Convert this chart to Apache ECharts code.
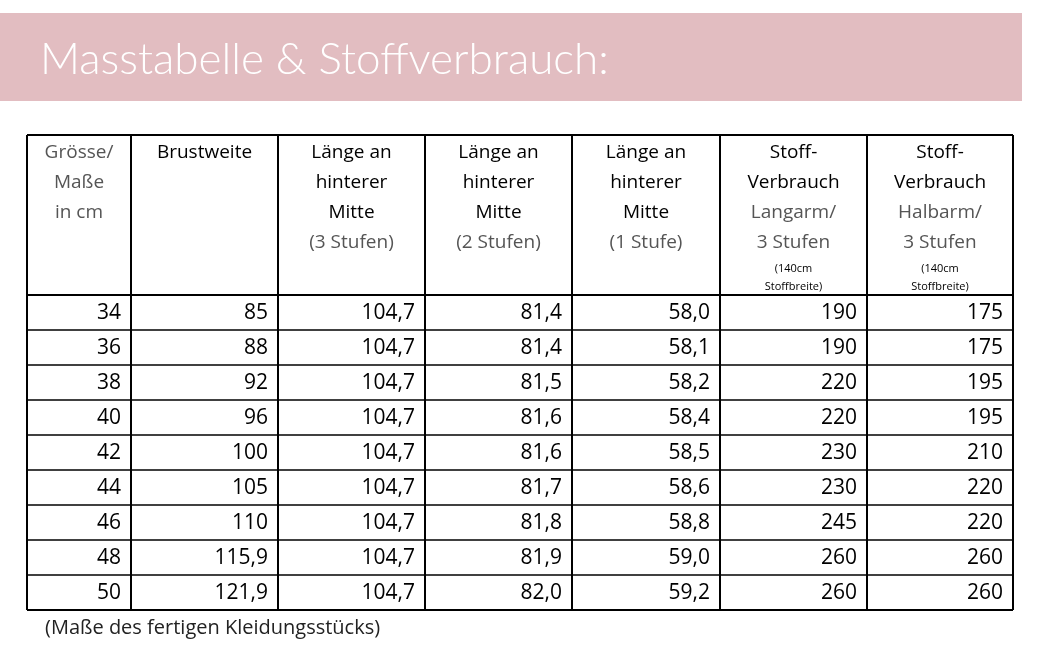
<!DOCTYPE html>
<html><head><meta charset="utf-8">
<script src="https://cdn.jsdelivr.net/npm/echarts@6/dist/echarts.min.js"></script>
<style>html,body{margin:0;background:#fff}#c{width:1063px;height:657px}</style>
</head><body><div id="c"></div>
<script>
const title = "Masstabelle & Stoffverbrauch:";
const footnote = "(Maße des fertigen Kleidungsstücks)";
const headers = [
  [["Grösse/","g"],["Maße","g"],["in cm","g"]],
  [["Brustweite","b"]],
  [["Länge an","b"],["hinterer","b"],["Mitte","b"],["(3 Stufen)","g"]],
  [["Länge an","b"],["hinterer","b"],["Mitte","b"],["(2 Stufen)","g"]],
  [["Länge an","b"],["hinterer","b"],["Mitte","b"],["(1 Stufe)","g"]],
  [["Stoff-","b"],["Verbrauch","b"],["Langarm/","g"],["3 Stufen","g"],["(140cm","s"],["Stoffbreite)","s"]],
  [["Stoff-","b"],["Verbrauch","b"],["Halbarm/","g"],["3 Stufen","g"],["(140cm","s"],["Stoffbreite)","s"]]
];
const sizes = ["34","36","38","40","42","44","46","48","50"];
const brust = ["85","88","92","96","100","105","110","115,9","121,9"];
const laenge3 = ["104,7","104,7","104,7","104,7","104,7","104,7","104,7","104,7","104,7"];
const laenge2 = ["81,4","81,4","81,5","81,6","81,6","81,7","81,8","81,9","82,0"];
const laenge1 = ["58,0","58,1","58,2","58,4","58,5","58,6","58,8","59,0","59,2"];
const langarm = ["190","190","220","220","230","230","245","260","260"];
const halbarm = ["175","175","195","195","210","220","220","260","260"];

(function(){
const colX = [27,131,278,425,572,720,867,1013];
const tTop = 135, headBottom = 295, rowH = 35;
const cols = [sizes,brust,laenge3,laenge2,laenge1,langarm,halbarm];
const F = '"Open Sans", sans-serif';
const g = [];
g.push({type:'rect',shape:{x:0,y:13,width:1022,height:88},style:{fill:'#e2bdc1'}});
g.push({type:'text',x:40,y:60,style:{text:title,fill:'#fff',font:'300 44px "Lato", sans-serif',textVerticalAlign:'middle'}});
const bottom = headBottom + rowH*sizes.length;
headers.forEach((h,i)=>{
  const cx=(colX[i]+colX[i+1])/2; let y=153;
  h.forEach(([t,k])=>{
    if(k==='s'){
      g.push({type:'text',x:cx,y:y-4,style:{text:t,fill:'#000',font:'11px '+F,textAlign:'center',textVerticalAlign:'middle'}}); y+=18;
    } else {
      g.push({type:'text',x:cx,y:y,style:{text:t,fill:k==='g'?'#555':'#000',font:'19px '+F,textAlign:'center',textVerticalAlign:'middle'}}); y+=30;
    }
  });
});
cols.forEach((arr,i)=>{
  arr.forEach((v,r)=>{
    g.push({type:'text',x:colX[i+1]-10,y:headBottom+rowH*r+rowH/2+1,style:{text:v,fill:'#000',font:'21px '+F,textAlign:'right',textVerticalAlign:'middle'}});
  });
});
colX.forEach(x=>g.push({type:'line',shape:{x1:x,y1:tTop,x2:x,y2:bottom},style:{stroke:'#000',lineWidth:2}}));
g.push({type:'line',shape:{x1:colX[0],y1:tTop,x2:1013,y2:tTop},style:{stroke:'#000',lineWidth:2}});
for(let r=0;r<=sizes.length;r++){
  const y=headBottom+rowH*r;
  g.push({type:'line',shape:{x1:colX[0],y1:y,x2:1013,y2:y},style:{stroke:'#000',lineWidth:(r===0||r===sizes.length)?2:1.5}});
}
g.push({type:'text',x:45,y:628,style:{text:footnote,fill:'#222',font:'20px '+F,textVerticalAlign:'middle'}});
const chart=echarts.init(document.getElementById('c'));
chart.setOption({animation:false,backgroundColor:'#fff',graphic:g});
})();
</script></body></html>
